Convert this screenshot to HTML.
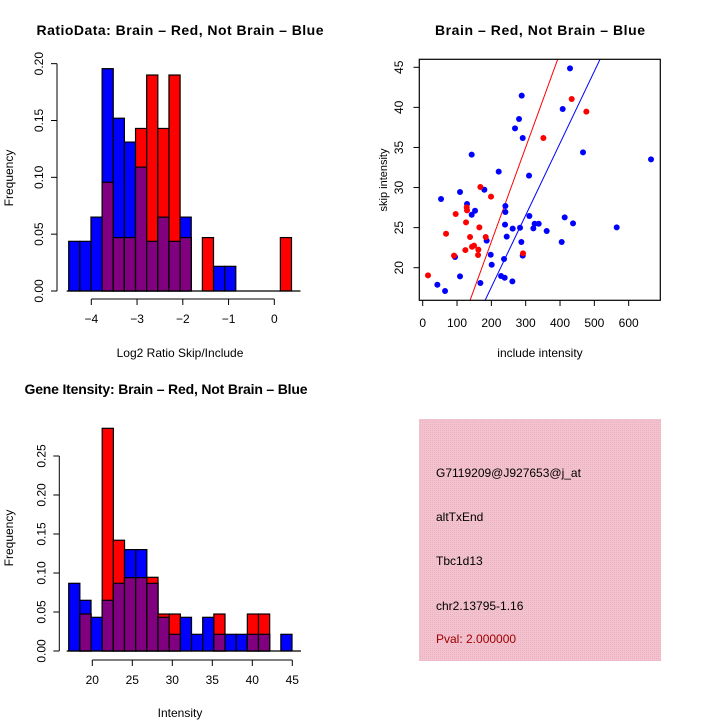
<!DOCTYPE html>
<html><head><meta charset="utf-8"><style>
html,body{margin:0;padding:0;background:#fff}
svg{display:block;font-family:"Liberation Sans",sans-serif}
</style></head><body>
<svg id="s" width="720" height="720" xmlns="http://www.w3.org/2000/svg">
<defs><pattern id="hatch" width="2" height="2" patternUnits="userSpaceOnUse"><rect width="2" height="2" fill="#f2c2ce"/><rect width="1" height="1" fill="#ecb2c2"/></pattern></defs>
<text x="180" y="35" text-anchor="middle" font-size="14" font-weight="bold" textLength="287">RatioData: Brain – Red, Not Brain – Blue</text>
<text x="540" y="35" text-anchor="middle" font-size="14" font-weight="bold" textLength="210">Brain – Red, Not Brain – Blue</text>
<text x="166" y="394" text-anchor="middle" font-size="14" font-weight="bold" textLength="283">Gene Itensity: Brain – Red, Not Brain – Blue</text>
<text x="180" y="357" text-anchor="middle" font-size="12">Log2 Ratio Skip/Include</text>
<text x="540" y="357" text-anchor="middle" font-size="12">include intensity</text>
<text x="180" y="717" text-anchor="middle" font-size="12">Intensity</text>
<text transform="translate(13,178) rotate(-90)" text-anchor="middle" font-size="12">Frequency</text>
<text transform="translate(13,538) rotate(-90)" text-anchor="middle" font-size="12">Frequency</text>
<text transform="translate(387,180) rotate(-90)" text-anchor="middle" font-size="11">skip intensity</text>
<g>
<rect x="419" y="419" width="242" height="242" fill="url(#hatch)"/>
<text x="436" y="477" font-size="12">G7119209@J927653@j_at</text>
<text x="436" y="521" font-size="12">altTxEnd</text>
<text x="436" y="565" font-size="12">Tbc1d13</text>
<text x="436" y="610" font-size="12">chr2.13795-1.16</text>
<text x="436" y="643" font-size="12" fill="#a00000">Pval: 2.000000</text>
</g>
<g id="g"></g>
</svg>
<script>
// Ratio histogram
const ratioBlue=[0.0437,0.0437,0.065,0.1956,0.152,0.131,0.109,0.0437,0.065,0.0437,0.065,0,0,0.0217,0.0217,0,0,0,0,0];
const ratioRed=[0,0,0,0.0956,0.047,0.047,0.143,0.19,0.143,0.19,0.047,0,0.047,0,0,0,0,0,0,0.047];
const ratioXTicks=[-4,-3,-2,-1,0];
const ratioYTicks=[0,0.05,0.10,0.15,0.20];
const ratioYLabels=["0.00","0.05","0.10","0.15","0.20"];
// Intensity histogram
const intBlue=[0.0868,0.065,0.0432,0.065,0.0868,0.130,0.130,0.0868,0.0432,0.0214,0.0432,0.0214,0.0432,0.0214,0.0214,0.0214,0.0214,0.0214,0,0.0214];
const intRed=[0,0.0474,0,0.2855,0.142,0.094,0.094,0.0945,0.0474,0.0474,0,0,0,0.0474,0,0,0.0474,0.0474,0,0];
const intXTicks=[20,25,30,35,40,45];
const intYTicks=[0,0.05,0.10,0.15,0.20,0.25];
const intYLabels=["0.00","0.05","0.10","0.15","0.20","0.25"];
// Scatter
const blueX=[429.1,288.4,407.8,280.6,268.9,291.3,467.0,142.7,665.1,221.4,309.7,179.6,108.7,53.4,129.1,240.8,152.4,240.8,310.7,142.7,413.6,437.9,326.2,337.9,322.3,239.8,262.1,283.5,361.2,565.1,244.7,186.4,287.4,404.9,198.1,236.9,291.3,94.2,201.0,108.7,228.2,238.8,261.2,168.0,42.7,65.1];
const blueY=[44.87,41.46,39.80,38.55,37.38,36.18,34.39,34.10,33.52,31.98,31.48,29.73,29.44,28.57,27.95,27.70,27.11,26.95,26.45,26.61,26.28,25.53,25.49,25.49,24.91,25.37,24.87,24.99,24.58,25.03,23.87,23.37,23.20,23.20,21.62,21.08,21.50,21.33,20.37,18.92,18.96,18.75,18.29,18.09,17.88,17.09];
const redX=[15.5,68.0,96.1,126.2,129.1,128.2,137.9,149.5,162.1,161.2,143.7,124.3,91.3,168.0,199.0,183.5,165.1,351.5,434.0,476.7,292.2];
const redY=[19.04,24.24,26.70,25.66,27.15,27.53,23.83,22.75,22.25,21.58,22.62,22.20,21.50,30.07,28.86,23.83,25.03,36.18,41.05,39.47,21.79];
const fitRed=[-0.32,0.1178];
const fitBlue=[-0.39,0.0898];
const scXTicks=[0,100,200,300,400,500,600];
const scYTicks=[20,25,30,35,40,45];

const NS="http://www.w3.org/2000/svg",G=document.getElementById('g');
function el(t,a,p){const e=document.createElementNS(NS,t);for(const k in a)e.setAttribute(k,a[k]);(p||G).appendChild(e);return e;}
function txt(s,a,p){const e=el('text',a,p);e.textContent=s;return e;}

function hist(blue,red,x0px,binW,sx,sy,y0,axX,xt,xTickY,yt,yl,prefix){
  const g=el('g',{});
  
  
  for(let i=0;i<blue.length;i++){
    const x=x0px+i*binW,b=blue[i],r=red[i],m=Math.min(b,r);
    if(b>0){const e=el('rect',{x:x,y:sy(b),width:binW,height:y0-sy(b),fill:'#0000ff',stroke:'#000','stroke-width':1.2},g);
      
      }
    if(r>0){const e=el('rect',{x:x,y:sy(r),width:binW,height:y0-sy(r),fill:'#ff0000',stroke:'#000','stroke-width':1.2},g);
      
      }
    if(m>0){const e=el('rect',{x:x,y:sy(m),width:binW,height:y0-sy(m),fill:'#800080',stroke:'#000','stroke-width':1.2},g);
      
      }
  }
  el('line',{x1:x0px-2,x2:x0px+blue.length*binW+9,y1:y0,y2:y0,stroke:'#000','stroke-width':1.2},g);
  const xa=el('g',{},g);
  
  
  const ay=xTickY;
  el('line',{x1:sx(xt[0]),x2:sx(xt[xt.length-1]),y1:ay,y2:ay,stroke:'#000'},xa);
  xt.forEach(v=>{el('line',{x1:sx(v),x2:sx(v),y1:ay,y2:ay+6,stroke:'#000'},xa);
    const t=txt(String(v).replace('-','−'),{x:sx(v),y:ay+24,'text-anchor':'middle','font-size':12},xa);
    
    });
  const ya=el('g',{},g);
  
  
  el('line',{x1:axX,x2:axX,y1:sy(yt[0]),y2:sy(yt[yt.length-1]),stroke:'#000'},ya);
  yt.forEach((v,i)=>{el('line',{x1:axX,x2:axX-6,y1:sy(v),y2:sy(v),stroke:'#000'},ya);
    const t=txt(yl[i],{transform:`translate(${axX-14},${sy(v)}) rotate(-90)`,'text-anchor':'middle','font-size':12},ya);
    
    });
}
hist(ratioBlue,ratioRed,68.7,11.14,v=>274.3+v*45.75,v=>291-v*1136.7,291,57,ratioXTicks,299,ratioYTicks,ratioYLabels,'ratio');
hist(intBlue,intRed,68.7,11.165,v=>92.3+(v-20)*8,v=>651-v*780,651,59.3,intXTicks,660,intYTicks,intYLabels,'intensity');

// scatter
const sx=v=>422.7+v*0.3433, sy=v=>267.7-(v-20)*8.016;
const sg=el('g',{});


const cp=el('clipPath',{id:'cp'},sg);el('rect',{x:419.3,y:59.3,width:241,height:241},cp);
function fitLine(f,c,name){const xa=0,xb=700;const l=el('line',{x1:sx(xa),y1:sy(f[0]+f[1]*xa),x2:sx(xb),y2:sy(f[0]+f[1]*xb),stroke:c,'stroke-width':1,'clip-path':'url(#cp)'},sg);
  
  }
fitLine(fitRed,'#ff0000','red-fit-line');
fitLine(fitBlue,'#0000ff','blue-fit-line');
blueX.forEach((x,i)=>{const c=el('circle',{cx:sx(x),cy:sy(blueY[i]),r:3,fill:'#0000ff'},sg);
  
  });
redX.forEach((x,i)=>{const c=el('circle',{cx:sx(x),cy:sy(redY[i]),r:3,fill:'#ff0000'},sg);
  
  });
el('rect',{x:419.3,y:59.3,width:241,height:241,fill:'none',stroke:'#000','stroke-width':1.2},sg);
scXTicks.forEach(v=>{el('line',{x1:sx(v),x2:sx(v),y1:300.3,y2:306,stroke:'#000'},sg);
  const t=txt(String(v),{x:sx(v),y:327,'text-anchor':'middle','font-size':12},sg);
  
  });
scYTicks.forEach(v=>{el('line',{x1:419.3,x2:413.5,y1:sy(v),y2:sy(v),stroke:'#000'},sg);
  const t=txt(String(v),{transform:`translate(403,${sy(v)}) rotate(-90)`,'text-anchor':'middle','font-size':12},sg);
  
  });
</script>
</body></html>
